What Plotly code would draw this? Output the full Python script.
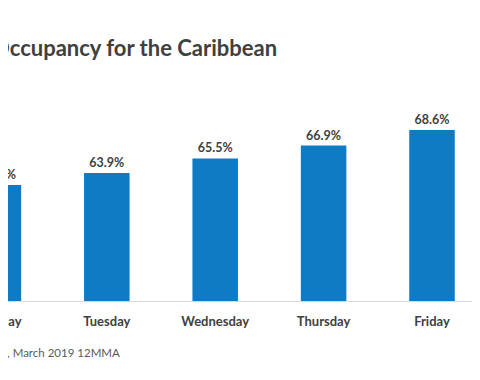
import plotly.graph_objects as go

days = ["Monday", "Tuesday", "Wednesday", "Thursday", "Friday"]
occupancy = [62.6, 63.9, 65.5, 66.9, 68.6]
value_labels = [f"{v:.1f}%" for v in occupancy]

title_text = "Day of Week Occupancy for the Caribbean"
source_text = "Source: STR, Day of Week Occupancy, March 2019 12MMA"

FONT = "Lato, 'Open Sans', sans-serif"
TXT = "#404040"

W, H = 472, 372          # page body has an 8px margin; fit inside the 480x380 window
PX_PER_CAT = 108.4
FIRST_CENTER_PX = -9.6   # Monday bar centre, cropped off the left edge

fig = go.Figure()
fig.add_trace(go.Bar(
    x=days, y=occupancy,
    text=value_labels, textposition="outside", cliponaxis=True,
    textfont=dict(family=FONT, size=12.5, color=TXT, weight="bold"),
    marker=dict(color="#0E7BC4", line=dict(width=0)),
    width=0.42,
    hoverinfo="skip",
))

x0 = -FIRST_CENTER_PX / PX_PER_CAT
fig.update_layout(
    template="none",
    width=W, height=H,
    margin=dict(l=0, r=0, t=63, b=79, pad=0),
    paper_bgcolor="white", plot_bgcolor="white",
    showlegend=False,
    xaxis=dict(
        type="category", range=[x0, x0 + W / PX_PER_CAT], automargin=False,
        showgrid=False, zeroline=False,
        showline=True, linecolor="#D9D9D9", linewidth=1,
        ticks="outside", ticklen=8, tickcolor="rgba(0,0,0,0)",
        ticklabeloverflow="allow",
        tickfont=dict(family=FONT, size=13, color=TXT, weight="bold"),
    ),
    yaxis=dict(range=[50, 75], visible=False, automargin=False),
    annotations=[
        dict(text=title_text, xref="paper", yref="paper", x=271 / W, y=1.1,
             xanchor="right", yanchor="middle", showarrow=False,
             font=dict(family=FONT, size=22, color=TXT, weight="bold")),
        dict(text=source_text, xref="paper", yref="paper", x=114 / W, y=-0.222,
             xanchor="right", yanchor="middle", showarrow=False,
             font=dict(family=FONT, size=11.5, color="#595959")),
        # cropped first category label (its tick lies just outside the visible range)
        dict(text=days[0], xref="paper", yref="paper", x=FIRST_CENTER_PX / W, y=0,
             yshift=-20, xanchor="center", yanchor="middle", showarrow=False,
             font=dict(family=FONT, size=13, color=TXT, weight="bold")),
    ],
)

fig.write_html("out.html")
